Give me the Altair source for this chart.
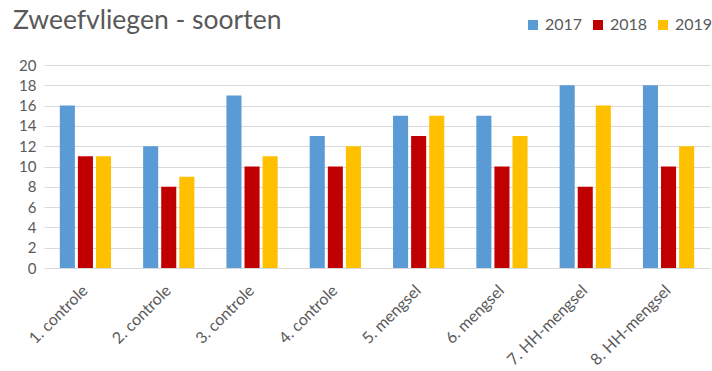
import altair as alt
import pandas as pd

categories = ["1. controle", "2. controle", "3. controle", "4. controle",
              "5. mengsel", "6. mengsel", "7. HH-mengsel", "8. HH-mengsel"]
years = ["2017", "2018", "2019"]
v2017 = [16, 12, 17, 13, 15, 15, 18, 18]
v2018 = [11, 8, 10, 10, 13, 10, 8, 10]
v2019 = [11, 9, 11, 12, 15, 13, 16, 12]
colors = ["#5B9BD5", "#C00000", "#FFC000"]

rows = []
for y, vals in zip(years, [v2017, v2018, v2019]):
    for c, v in zip(categories, vals):
        rows.append({"cat": c, "year": y, "value": v})
df = pd.DataFrame(rows)

FONT = "Lato"
GRAY = "#595959"

chart = alt.Chart(df).mark_bar().encode(
    x=alt.X("cat:N", sort=categories, title=None,
            scale=alt.Scale(paddingInner=0.385, paddingOuter=0.19),
            axis=alt.Axis(labelAngle=-45, labelFont=FONT, labelFontSize=16,
                          labelColor=GRAY, ticks=False, domainColor="#d9d9d9",
                          labelPadding=14, labelOffset=-6, labelOverlap=False)),
    xOffset=alt.XOffset("year:N", sort=years,
                        scale=alt.Scale(paddingInner=0.167, paddingOuter=0)),
    y=alt.Y("value:Q", title=None,
            scale=alt.Scale(domain=[0, 20]),
            axis=alt.Axis(values=list(range(0, 21, 2)), labelFont=FONT,
                          labelFontSize=15, labelColor=GRAY, ticks=False,
                          domain=False, gridColor="#d9d9d9", labelPadding=8)),
    color=alt.Color("year:N", sort=years,
                    scale=alt.Scale(domain=years, range=colors),
                    legend=alt.Legend(title=None, orient="none", direction="horizontal",
                                      legendX=481, legendY=-48, symbolType="square",
                                      symbolSize=100, symbolStrokeWidth=0,
                                      labelFont=FONT, labelFontSize=16, labelColor=GRAY,
                                      labelOffset=4, columnPadding=7, symbolOpacity=1)),
).properties(
    width=666, height=203,
    autosize=alt.AutoSizeParams(type="none"),
    padding={"left": 44, "top": 65, "right": 2, "bottom": 103},
    title=alt.TitleParams("Zweefvliegen - soorten", anchor="start", frame="group",
                          font=FONT, fontSize=26.5, fontWeight="normal", color=GRAY,
                          dx=-31, dy=21),
).configure_view(stroke=None)

chart.save("out.html", embed_options={"renderer": "svg", "actions": False})
